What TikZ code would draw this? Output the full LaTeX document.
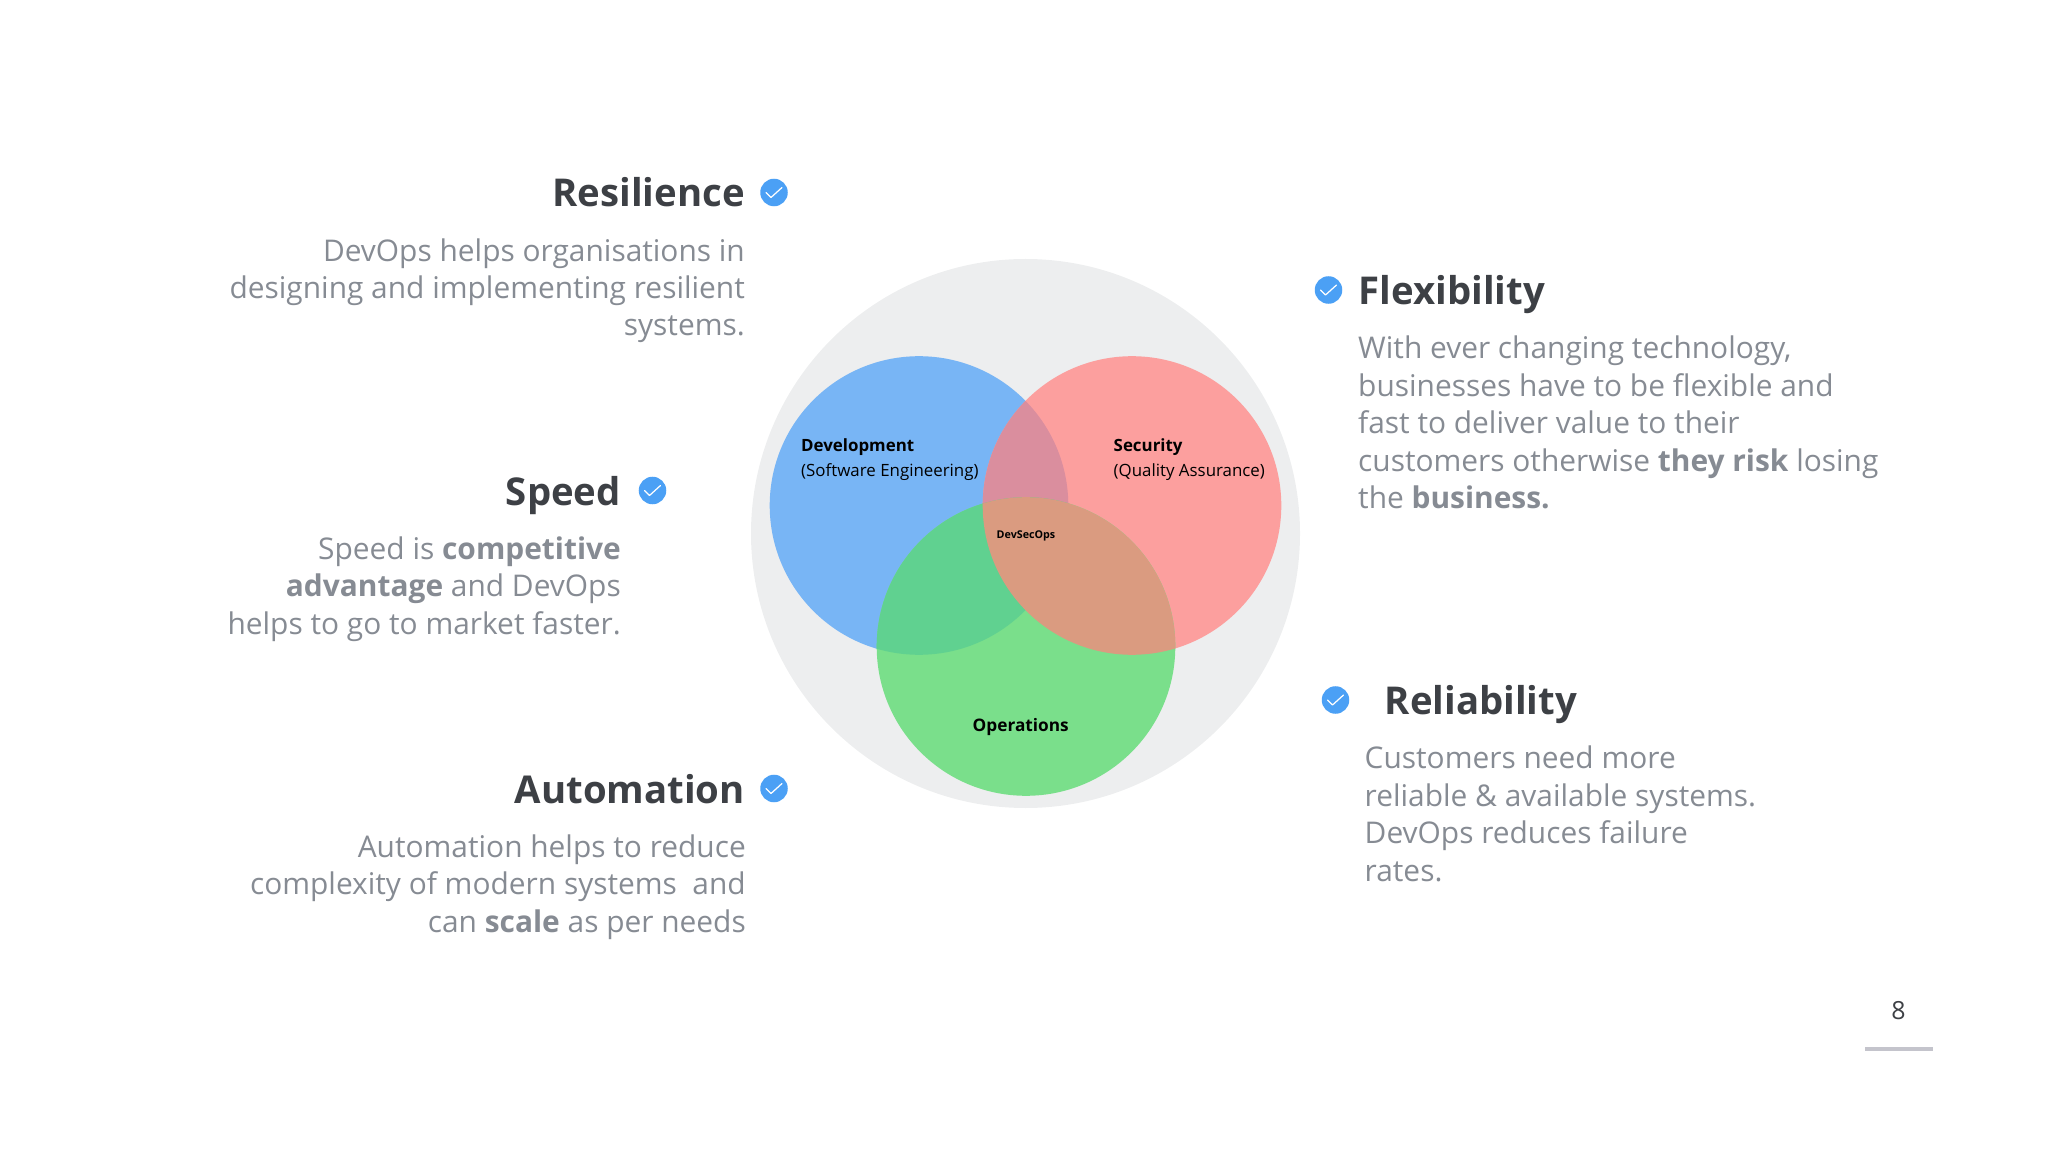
\documentclass[tikz,border=0pt]{standalone}
\usepackage{fontspec}
\setmainfont{Open Sans}
\definecolor{ringgray}{HTML}{EDEEEF}
\definecolor{devblue}{HTML}{78B5F5}
\definecolor{secred}{HTML}{FC9F9E}
\definecolor{opsgreen}{HTML}{7ADF8B}
\definecolor{blueredmix}{HTML}{DA8E9E}
\definecolor{bluegreenmix}{HTML}{60D190}
\definecolor{redgreenmix}{HTML}{DA9B80}
\definecolor{headink}{HTML}{3D4045}
\definecolor{bodyink}{HTML}{868B93}
\definecolor{tickblue}{HTML}{4BA0F5}
\definecolor{rulegray}{HTML}{C4C4CC}
\tikzset{
	heading/.style={font=\fontsize{10.9}{13}\selectfont\bfseries, text=headink, inner sep=0pt},
	bodytext/.style={font=\fontsize{8.5}{10.64}\selectfont, text=bodyink, inner sep=0pt},
	vennlabel/.style={font=\fontsize{4.8}{7}\selectfont, text=black, inner sep=0pt, anchor=base west, align=left},
	tickdisc/.style={circle, fill=tickblue, minimum size=0.275cm, inner sep=0pt},
	tickmark/.style={draw=white, line width=0.35pt, line cap=round, line join=round}
}
\begin{document}
\begin{tikzpicture}[x=0.01cm,y=-0.01cm]
	\useasboundingbox (0,0) rectangle (2048,1152);

	\fill[ringgray] (1025.5,533.5) coordinate (ring) circle (274.5);
	\fill[devblue] (919,505.5) coordinate (dev) circle (149.3);
	\fill[secred] (1132,505.5) coordinate (sec) circle (149.3);
	\fill[opsgreen] (1026,646.5) coordinate (ops) circle (149.3);
	\begin{scope}
		\clip (dev) circle (149.3);
		\fill[blueredmix] (sec) circle (149.3);
		\fill[bluegreenmix] (ops) circle (149.3);
	\end{scope}
	\begin{scope}
		\clip (sec) circle (149.3);
		\fill[redgreenmix] (ops) circle (149.3);
	\end{scope}

	\node[vennlabel] (devlabel) at (800.5,476.5) {\textbf{Development}\\(Software Engineering)};
	\node[vennlabel] (seclabel) at (1113,476.5) {\textbf{Security}\\(Quality Assurance)};
	\node[vennlabel, font=\fontsize{4.9}{6}\selectfont\bfseries] (opslabel) at (972,731.5) {Operations};
	\node[vennlabel, font=\fontsize{3.05}{4}\selectfont\bfseries] (corelabel) at (996,538) {DevSecOps};

	\node[heading, anchor=base east] (resilience) at (745.5,207) {Resilience};
	\node[bodytext, anchor=base east, align=right] (resiliencetext) at (745.5,336) {DevOps helps organisations in\\designing and implementing resilient\\systems.};
	\node[tickdisc] (tick1) at (774,192.5) {};
	\draw[tickmark] (tick1) ++(-8,0) -- ++(5,5) -- ++(11,-10);

	\node[heading, anchor=base east] (speed) at (621.5,505) {Speed};
	\node[bodytext, anchor=base east, align=right] (speedtext) at (621.5,634) {Speed is \textbf{competitive}\\\textbf{advantage} and DevOps\\helps to go to market faster.};
	\node[tickdisc] (tick2) at (652.5,490.5) {};
	\draw[tickmark] (tick2) ++(-8,0) -- ++(5,5) -- ++(11,-10);

	\node[heading, anchor=base east] (automation) at (745.5,803) {Automation};
	\node[bodytext, anchor=base east, align=right] (automationtext) at (746.5,932) {Automation helps to reduce\\complexity of modern systems\ \ and\\can \textbf{scale} as per needs};
	\node[tickdisc] (tick3) at (774,788.5) {};
	\draw[tickmark] (tick3) ++(-8,0) -- ++(5,5) -- ++(11,-10);

	\node[heading, anchor=base west] (flexibility) at (1358,305) {Flexibility};
	\node[bodytext, anchor=base west, align=left] (flexibilitytext) at (1357.5,508.5) {With ever changing technology,\\businesses have to be flexible and\\fast to deliver value to their\\customers otherwise \textbf{they risk} losing\\the \textbf{business.}};
	\node[tickdisc] (tick4) at (1328.5,290) {};
	\draw[tickmark] (tick4) ++(-8,0) -- ++(5,5) -- ++(11,-10);

	\node[heading, anchor=base west] (reliability) at (1384,714) {Reliability};
	\node[bodytext, anchor=base west, align=left] (reliabilitytext) at (1364,881) {Customers need more\\reliable \& available systems.\\DevOps reduces failure\\rates.};
	\node[tickdisc] (tick5) at (1335.5,700) {};
	\draw[tickmark] (tick5) ++(-8,0) -- ++(5,5) -- ++(11,-10);

	\node[font=\fontsize{7.1}{9}\selectfont, text=headink, inner sep=0pt, anchor=base] (pagenum) at (1898.5,1019) {8};
	\fill[rulegray] (1865,1047) rectangle (1933,1051);
\end{tikzpicture}
\end{document}
